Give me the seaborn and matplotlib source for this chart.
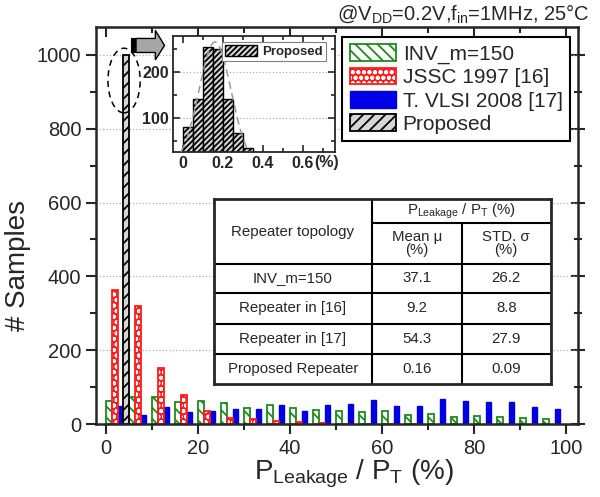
import numpy as np
import pandas as pd
import matplotlib
matplotlib.use("Agg")
import matplotlib.pyplot as plt
import seaborn as sns
from matplotlib.patches import Patch, Ellipse, Polygon, Rectangle
from matplotlib.legend_handler import HandlerTuple
from matplotlib.ticker import MultipleLocator

# ---------------- data ----------------
bin_centers = [2.5, 7.5, 12.5, 17.5, 22.5, 27.5, 32.5, 37.5, 42.5, 47.5,
               52.5, 57.5, 62.5, 67.5, 72.5, 77.5, 82.5, 87.5, 92.5, 97.5]
inv_counts = [63, 75, 74, 59, 62, 58, 44, 51, 43, 40, 35, 32, 36, 26, 28, 21, 22, 20, 16, 13]
jssc_counts = [363, 320, 153, 79, 35, 18, 13, 9, 5, 3, 2, 1, 1, 1, 0, 0, 0, 0, 0, 0]
vlsi_counts = [50, 24, 48, 32, 36, 42, 41, 53, 35, 53, 55, 67, 50, 50, 68, 63, 59, 61, 47, 42]
proposed_bins = [2.5]
proposed_counts = [1000]
series_names = ["INV_m=150", "JSSC 1997 [16]", "T. VLSI 2008 [17]", "Proposed"]

inset_bins = [0.025, 0.075, 0.125, 0.175, 0.225, 0.275, 0.325, 0.375, 0.425, 0.475]
inset_counts = [81, 142, 254, 249, 142, 67, 35, 18, 8, 4]
fit_mu, fit_sigma, fit_area = 0.16, 0.08, 53.0

table_header = ["Repeater topology", "P$_{\\mathrm{Leakage}}$ / P$_{\\mathrm{T}}$ (%)", "Mean \u03bc\n(%)", "STD. \u03c3\n(%)"]
table_rows = [["INV_m=150", "37.1", "26.2"],
              ["Repeater in [16]", "9.2", "8.8"],
              ["Repeater in [17]", "54.3", "27.9"],
              ["Proposed Repeater", "0.16", "0.09"]]

# ---------------- style ----------------
sns.set_style("ticks")
plt.rcParams["font.family"] = ["Liberation Sans", "DejaVu Sans"]
plt.rcParams["mathtext.fontset"] = "custom"
plt.rcParams["mathtext.rm"] = "Liberation Sans"
plt.rcParams["mathtext.it"] = "Liberation Sans:italic"
plt.rcParams["mathtext.bf"] = "Liberation Sans:bold"
plt.rcParams["mathtext.default"] = "regular"
plt.rcParams["hatch.linewidth"] = 1.3

GREEN = "#1c8c1c"
RED = "#ff1a1a"
BLUE = "#0000e6"
GRAY = "#d6d6d6"
RED_HATCH = "ooo"

rows = []
for b, v in zip(bin_centers, inv_counts):
    rows.append((b, v, series_names[0]))
for b, v in zip(bin_centers, jssc_counts):
    if v > 0:
        rows.append((b, v, series_names[1]))
for b, v in zip(bin_centers, vlsi_counts):
    rows.append((b, v, series_names[2]))
for b, v in zip(proposed_bins, proposed_counts):
    rows.append((b, v, series_names[3]))
df = pd.DataFrame(rows, columns=["bin", "count", "series"])

fig = plt.figure(figsize=(6, 4.97), dpi=100)
ax = fig.add_axes([0.16, 0.1463, 0.8033, 0.7994])

pal = {series_names[0]: "white", series_names[1]: RED, series_names[2]: BLUE, series_names[3]: GRAY}
sns.barplot(data=df, x="bin", y="count", hue="series", hue_order=series_names,
            native_scale=True, width=1.0, dodge=True, errorbar=None, palette=pal,
            saturation=1, legend=False, ax=ax)

for cont, name in zip(ax.containers, series_names):
    for bar in cont:
        if name == series_names[0]:
            bar.set_facecolor("white"); bar.set_edgecolor(GREEN); bar.set_hatch("\\\\\\"); bar.set_linewidth(1.3)
        elif name == series_names[1]:
            bar.set_facecolor(RED); bar.set_edgecolor("white"); bar.set_hatch(RED_HATCH); bar.set_linewidth(0)
            ax.add_patch(Rectangle((bar.get_x(), bar.get_y()), bar.get_width(), bar.get_height(),
                                   fill=False, edgecolor=RED, lw=1.3, zorder=bar.get_zorder() + 0.1))
        elif name == series_names[2]:
            bar.set_facecolor(BLUE); bar.set_edgecolor(BLUE); bar.set_linewidth(1.0)
        else:
            bar.set_facecolor(GRAY); bar.set_edgecolor("black"); bar.set_hatch("///"); bar.set_linewidth(1.3)

ax.set_xlim(-2.2, 102.6)
ax.set_ylim(0, 1075)
ax.xaxis.set_major_locator(MultipleLocator(20))
ax.xaxis.set_minor_locator(MultipleLocator(10))
ax.yaxis.set_major_locator(MultipleLocator(200))
ax.yaxis.set_minor_locator(MultipleLocator(100))
ax.tick_params(which="both", direction="out", width=1.5, labelsize=14.5)
ax.tick_params(which="major", length=7)
ax.tick_params(which="minor", length=4)
ax.yaxis.grid(True, which="major", ls=":", color="#b0b0b0", lw=0.9)
ax.set_axisbelow(True)
for s in ax.spines.values():
    s.set_linewidth(1.8)

top = ax.secondary_xaxis("top")
top.xaxis.set_major_locator(MultipleLocator(20))
top.xaxis.set_minor_locator(MultipleLocator(10))
top.tick_params(which="both", direction="in", width=1.5, labeltop=False)
top.tick_params(which="major", length=7)
top.tick_params(which="minor", length=4)
right = ax.secondary_yaxis("right")
right.yaxis.set_major_locator(MultipleLocator(200))
right.yaxis.set_minor_locator(MultipleLocator(100))
right.tick_params(which="both", direction="inout", width=1.5, labelright=False)
right.tick_params(which="major", length=10)
right.tick_params(which="minor", length=6)

ax.set_xlabel("P$_{\\mathrm{Leakage}}$ / P$_{\\mathrm{T}}$ (%)", fontsize=20)
ax.set_ylabel("# Samples", fontsize=20)
ax.xaxis.set_label_coords(0.535, -0.085)
ax.yaxis.set_label_coords(-0.135, 0.40)

# dashed ellipse and arrow annotation
ax.add_patch(Ellipse((3.9, 930), 7.0, 175, fill=False, ls=(0, (4, 3)), lw=1.1, ec="black", zorder=5))
ax.add_patch(Rectangle((5.4, 1006), 1.1, 38, fc="black", ec="black", lw=0.8, zorder=5, clip_on=False))
ax.add_patch(Polygon([(6.5, 1006), (10.7, 1006), (10.7, 986), (12.7, 1025), (10.7, 1066),
                      (10.7, 1044), (6.5, 1044)], closed=True, fc="#a6a6a6", ec="black", lw=1.0,
                     zorder=5, clip_on=False))

# legend
h_inv = Patch(facecolor="white", edgecolor=GREEN, hatch="\\\\\\", lw=1.3)
h_jssc = (Patch(facecolor=RED, edgecolor="white", hatch=RED_HATCH, lw=0),
          Patch(fill=False, edgecolor=RED, lw=1.3))
h_vlsi = Patch(facecolor=BLUE, edgecolor=BLUE)
h_prop = Patch(facecolor=GRAY, edgecolor="black", hatch="///", lw=1.3)
leg = ax.legend([h_inv, h_jssc, h_vlsi, h_prop], series_names,
                handler_map={tuple: HandlerTuple(ndivide=1, pad=0)},
                loc="upper right", bbox_to_anchor=(570 / 600, 1 - 37 / 497),
                bbox_transform=fig.transFigure, borderaxespad=0, fontsize=15,
                handlelength=2.25, handleheight=0.85, handletextpad=0.3,
                labelspacing=0.18, borderpad=0.35, fancybox=False, framealpha=1)
leg.get_frame().set_edgecolor("black")
leg.get_frame().set_linewidth(1.5)

# title annotation
fig.text(590 / 600, 1 - 14 / 497, "@V$_{\\mathrm{DD}}$=0.2V,f$_{\\mathrm{in}}$=1MHz, 25\u00b0C",
         ha="right", va="center", fontsize=14.5)

# ---------------- inset ----------------
in_top, in_bot = 36, 152
axin = fig.add_axes([173 / 600, 1 - in_bot / 497, (335 - 173) / 600, (in_bot - in_top) / 497])
sns.barplot(x=inset_bins, y=inset_counts, native_scale=True, width=1.0, color=GRAY,
            saturation=1, errorbar=None, ax=axin)
for bar in axin.patches:
    bar.set_facecolor(GRAY); bar.set_edgecolor("black"); bar.set_hatch("//////"); bar.set_linewidth(1.0)
xs = np.linspace(-0.05, 0.45, 200)
ys = fit_area / (fit_sigma * np.sqrt(2 * np.pi)) * np.exp(-0.5 * ((xs - fit_mu) / fit_sigma) ** 2)
axin.plot(xs, ys, ls=(0, (5, 3)), color="#9a9a9a", lw=1.1, zorder=4)
axin.set_xlim(-0.05, 0.76)
axin.set_ylim(27, 277)
axin.xaxis.set_minor_locator(MultipleLocator(0.1))
axin.yaxis.set_minor_locator(MultipleLocator(50))
axin.set_xticks([0, 0.2, 0.4, 0.6])
axin.set_xticklabels(["0", "0.2", "0.4", "0.6"])
axin.set_yticks([100, 200])
axin.set_yticklabels(["100", "200"])
axin.tick_params(which="both", direction="in", top=True, right=True, width=1.2, labelsize=11.5, pad=3)
axin.tick_params(which="major", length=5)
axin.tick_params(which="minor", length=3)
for lab in axin.get_xticklabels() + axin.get_yticklabels():
    lab.set_fontweight("bold")
axin.yaxis.grid(True, which="major", ls=":", color="#b0b0b0", lw=0.9)
axin.set_axisbelow(True)
axin.set_xlabel("")
axin.set_ylabel("")
for s in axin.spines.values():
    s.set_linewidth(1.3)
axin.text(0.72, -0.03, "(%)", transform=axin.get_xaxis_transform(), ha="center", va="top",
          fontsize=11.5, fontweight="bold")
lin = axin.legend([Patch(facecolor=GRAY, edgecolor="black", hatch="//////", lw=1.0)], ["Proposed"],
                  loc="upper right", bbox_to_anchor=(326 / 600, 1 - 41.7 / 497),
                  bbox_transform=fig.transFigure, borderaxespad=0, fancybox=False, framealpha=1,
                  prop={"size": 9.5, "weight": "bold"}, handlelength=2.4, handleheight=0.9,
                  handletextpad=0.4, borderpad=0.25)
lin.get_frame().set_edgecolor("#808080")
lin.get_frame().set_linewidth(0.8)

# ---------------- table ----------------
L, R, T, B = 214, 550.7, 199.3, 384.3
tax = fig.add_axes([L / 600, 1 - B / 497, (R - L) / 600, (B - T) / 497])
tax.set_xlim(L, R)
tax.set_ylim(B, T)
tax.set_facecolor("white")
for s in tax.spines.values():
    s.set_linewidth(2.0)
tax.set_xticks([]); tax.set_yticks([])
c1, c2 = 371.7, 461.7
rlines = [264, 292.7, 324, 354]
lw_in = 1.5
tax.plot([c1, c1], [T, B], color="black", lw=lw_in)
tax.plot([c2, c2], [223.3, B], color="black", lw=lw_in)
tax.plot([c1, R], [223.3, 223.3], color="black", lw=lw_in)
for y in rlines:
    tax.plot([L, R], [y, y], color="black", lw=lw_in)
fs = 10.8
tax.text((L + c1) / 2, (T + 264) / 2, table_header[0], ha="center", va="center", fontsize=fs)
tax.text((c1 + R) / 2, (T + 223.3) / 2, table_header[1], ha="center", va="center", fontsize=fs)
tax.text((c1 + c2) / 2, (223.3 + 264) / 2, table_header[2], ha="center", va="center", fontsize=fs,
         linespacing=0.95)
tax.text((c2 + R) / 2, (223.3 + 264) / 2, table_header[3], ha="center", va="center", fontsize=fs,
         linespacing=0.95)
edges = [264, 292.7, 324, 354, B]
for i, row in enumerate(table_rows):
    yc = (edges[i] + edges[i + 1]) / 2
    tax.text((L + c1) / 2, yc, row[0], ha="center", va="center", fontsize=fs)
    tax.text((c1 + c2) / 2, yc, row[1], ha="center", va="center", fontsize=fs)
    tax.text((c2 + R) / 2, yc, row[2], ha="center", va="center", fontsize=fs)

fig.savefig("out.png", dpi=100)
